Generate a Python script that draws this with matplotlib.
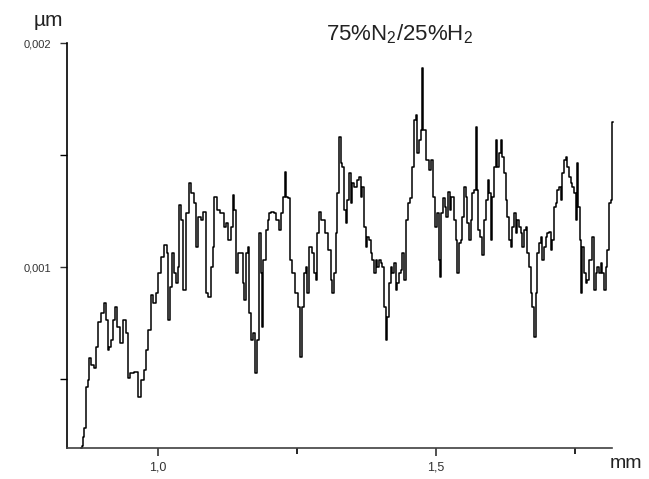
import matplotlib
matplotlib.use('Agg')
import matplotlib.pyplot as plt
from matplotlib.ticker import FixedLocator, FuncFormatter

plt.rcParams['font.family'] = ['Liberation Sans', 'DejaVu Sans']
plt.rcParams['mathtext.default'] = 'regular'

# profile: position (mm) and height (x 1e-3)
pos_mm = [0.862, 0.865, 0.866, 0.869, 0.872, 0.874, 0.879, 0.881, 0.887, 0.890,
          0.894, 0.899, 0.905, 0.908, 0.911, 0.914, 0.917, 0.920, 0.924, 0.929,
          0.935, 0.939, 0.944, 0.947, 0.953, 0.962, 0.966, 0.971, 0.977, 0.981,
          0.984, 0.990, 0.993, 0.998, 1.002, 1.007, 1.014, 1.017, 1.020, 1.023,
          1.026, 1.031, 1.034, 1.037, 1.040, 1.043, 1.047, 1.052, 1.058, 1.062,
          1.067, 1.070, 1.074, 1.080, 1.083, 1.088, 1.092, 1.097, 1.099, 1.104,
          1.108, 1.115, 1.121, 1.125, 1.128, 1.133, 1.135, 1.138, 1.142, 1.145,
          1.151, 1.153, 1.156, 1.160, 1.162, 1.165, 1.169, 1.173, 1.176, 1.180,
          1.183, 1.187, 1.188, 1.191, 1.196, 1.198, 1.201, 1.206, 1.210, 1.216,
          1.219, 1.222, 1.227, 1.230, 1.231, 1.237, 1.239, 1.243, 1.249, 1.255,
          1.257, 1.260, 1.264, 1.267, 1.270, 1.275, 1.278, 1.282, 1.285, 1.288,
          1.291, 1.297, 1.303, 1.309, 1.312, 1.315, 1.318, 1.321, 1.324, 1.327,
          1.330, 1.333, 1.336, 1.339, 1.342, 1.345, 1.348, 1.351, 1.356, 1.360,
          1.363, 1.366, 1.369, 1.372, 1.375, 1.378, 1.381, 1.384, 1.387, 1.390,
          1.393, 1.396, 1.399, 1.402, 1.405, 1.408, 1.411, 1.414, 1.417, 1.420,
          1.423, 1.426, 1.429, 1.432, 1.435, 1.438, 1.441, 1.444, 1.447, 1.452,
          1.456, 1.459, 1.462, 1.465, 1.468, 1.471, 1.474, 1.476, 1.479, 1.486,
          1.490, 1.494, 1.496, 1.500, 1.504, 1.506, 1.508, 1.511, 1.514, 1.518,
          1.520, 1.524, 1.526, 1.530, 1.534, 1.537, 1.540, 1.543, 1.546, 1.549,
          1.552, 1.555, 1.558, 1.561, 1.564, 1.567, 1.570, 1.573, 1.575, 1.578,
          1.582, 1.585, 1.588, 1.591, 1.595, 1.597, 1.600, 1.603, 1.606, 1.609,
          1.612, 1.615, 1.618, 1.621, 1.624, 1.627, 1.630, 1.633, 1.636, 1.639,
          1.642, 1.645, 1.648, 1.651, 1.654, 1.657, 1.660, 1.663, 1.666, 1.669,
          1.672, 1.675, 1.678, 1.681, 1.684, 1.687, 1.690, 1.693, 1.696, 1.699,
          1.702, 1.705, 1.708, 1.711, 1.714, 1.717, 1.720, 1.723, 1.726, 1.729,
          1.732, 1.735, 1.738, 1.741, 1.744, 1.747, 1.750, 1.753, 1.755, 1.758,
          1.760, 1.762, 1.765, 1.768, 1.771, 1.774, 1.777, 1.780, 1.783, 1.786,
          1.789, 1.792, 1.795, 1.798, 1.801, 1.804, 1.807, 1.810, 1.813, 1.816,
          1.819]
height_e3 = [0.192, 0.201, 0.241, 0.281, 0.464, 0.496, 0.594, 0.563, 0.549, 0.643,
             0.754, 0.795, 0.839, 0.763, 0.629, 0.643, 0.674, 0.763, 0.821, 0.732,
             0.661, 0.763, 0.705, 0.504, 0.527, 0.531, 0.420, 0.496, 0.540, 0.629,
             0.719, 0.875, 0.839, 0.884, 0.973, 1.045, 1.098, 1.063, 0.763, 0.911,
             1.063, 0.973, 0.929, 1.000, 1.277, 1.210, 0.897, 1.241, 1.375, 1.330,
             1.286, 1.089, 1.223, 1.210, 1.246, 0.884, 0.866, 1.000, 1.089, 1.313,
             1.254, 1.241, 1.179, 1.196, 1.121, 1.179, 1.321, 1.254, 0.973, 1.063,
             1.063, 0.929, 0.853, 1.063, 1.089, 0.795, 0.674, 0.705, 0.527, 0.674,
             1.152, 0.973, 0.732, 1.031, 1.165, 1.210, 1.241, 1.246, 1.241, 1.210,
             1.165, 1.241, 1.313, 1.424, 1.313, 1.308, 1.031, 0.973, 0.884, 0.821,
             0.598, 0.821, 0.973, 1.000, 0.884, 1.089, 1.063, 0.973, 0.942, 1.152,
             1.246, 1.210, 1.152, 1.076, 0.942, 0.884, 0.973, 1.152, 1.330, 1.580,
             1.464, 1.446, 1.254, 1.196, 1.299, 1.420, 1.286, 1.375, 1.357, 1.388,
             1.402, 1.313, 1.357, 1.179, 1.089, 1.134, 1.121, 1.063, 1.031, 0.973,
             1.031, 1.000, 1.031, 1.018, 1.000, 0.821, 0.674, 0.777, 0.929, 1.000,
             0.973, 1.018, 0.897, 0.929, 0.973, 0.987, 1.063, 0.942, 1.210, 1.286,
             1.308, 1.446, 1.656, 1.679, 1.509, 1.567, 1.612, 1.888, 1.612, 1.478,
             1.433, 1.478, 1.313, 1.179, 1.241, 1.031, 0.955, 1.241, 1.308, 1.268,
             1.223, 1.335, 1.254, 1.313, 1.210, 1.121, 0.973, 1.107, 1.121, 1.223,
             1.357, 1.313, 1.196, 1.121, 1.210, 1.330, 1.344, 1.625, 1.344, 1.165,
             1.134, 1.054, 1.210, 1.299, 1.388, 1.330, 1.121, 1.313, 1.446, 1.567,
             1.446, 1.509, 1.567, 1.491, 1.420, 1.299, 1.223, 1.121, 1.089, 1.179,
             1.241, 1.152, 1.210, 1.179, 1.152, 1.089, 1.165, 1.179, 1.063, 1.000,
             0.884, 0.821, 0.688, 0.884, 1.063, 1.107, 1.134, 1.031, 1.089, 1.134,
             1.152, 1.156, 1.076, 1.121, 1.268, 1.286, 1.344, 1.357, 1.299, 1.420,
             1.478, 1.491, 1.446, 1.402, 1.375, 1.357, 1.330, 1.210, 1.464, 1.268,
             1.121, 0.884, 1.089, 0.973, 0.929, 0.942, 1.031, 1.031, 1.134, 0.897,
             0.973, 1.000, 0.973, 1.018, 0.973, 0.897, 1.000, 1.076, 1.286, 1.299,
             1.647]
height_um = [h / 1000 for h in height_e3]

x_major = [1.0, 1.5]
x_minor = [1.25, 1.75]
y_major = [0.001, 0.002]
y_minor = [0.0005, 0.0015]

fig = plt.figure(figsize=(6.49, 4.79), dpi=100)
ax = fig.add_axes([0.1032, 0.0647, 0.8398, 0.8455])

ax.plot(pos_mm, height_um, color='black', lw=1.1, drawstyle='steps-mid',
        clip_on=False)

ax.set_xlim(0.836, 1.817)
ax.set_ylim(0.000192, 0.002)

ax.spines['top'].set_visible(False)
ax.spines['right'].set_visible(False)
ax.spines['left'].set_color('black')
ax.spines['bottom'].set_color('#404040')
ax.spines['left'].set_linewidth(1.2)
ax.spines['bottom'].set_linewidth(1.2)

ax.xaxis.set_major_locator(FixedLocator(x_major))
ax.xaxis.set_minor_locator(FixedLocator(x_minor))
ax.yaxis.set_major_locator(FixedLocator(y_major))
ax.yaxis.set_minor_locator(FixedLocator(y_minor))
ax.xaxis.set_major_formatter(FuncFormatter(lambda v, p: f'{v:.1f}'.replace('.', ',')))
ax.yaxis.set_major_formatter(FuncFormatter(lambda v, p: f'{v:.3f}'.replace('.', ',')))

ax.tick_params(axis='x', which='major', direction='out', length=6, width=1.2,
               pad=4, labelsize=9, colors='#333333')
ax.tick_params(axis='x', which='minor', direction='out', length=4, width=1.2)
ax.tick_params(axis='y', which='major', direction='out', length=5, width=1.0,
               pad=6, labelsize=8, colors='#333333')
ax.tick_params(axis='y', which='minor', direction='out', length=5, width=1.0)

fig.text(0.075, 0.958, 'µm', fontsize=15, ha='center', va='center', color='#222222')
fig.text(0.965, 0.015, 'mm', fontsize=14, ha='center', va='bottom', color='#222222')
fig.text(0.615, 0.905, r'75%N$_2$/25%H$_2$', fontsize=16, ha='center', va='bottom',
         color='#222222')

fig.savefig('out.png', dpi=100)
